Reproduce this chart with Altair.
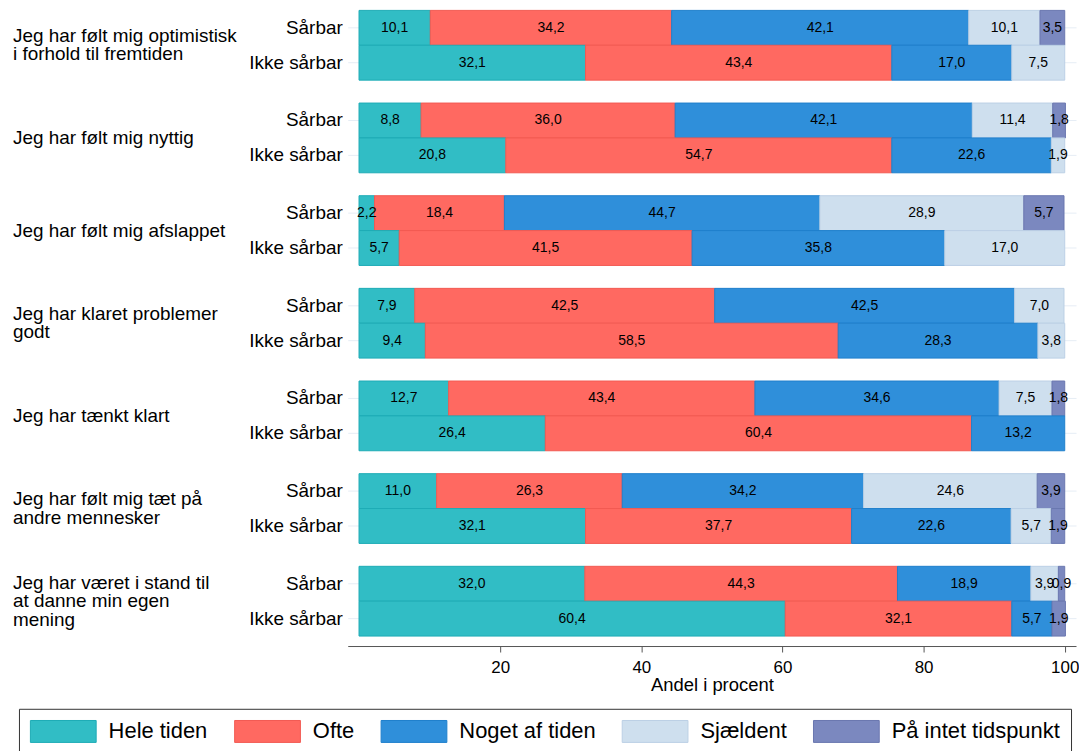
import altair as alt
import pandas as pd

groups = [
    "Jeg har følt mig optimistisk|i forhold til fremtiden",
    "Jeg har følt mig nyttig",
    "Jeg har følt mig afslappet",
    "Jeg har klaret problemer|godt",
    "Jeg har tænkt klart",
    "Jeg har følt mig tæt på|andre mennesker",
    "Jeg har været i stand til|at danne min egen|mening",
]
subs = ["Sårbar", "Ikke sårbar"]
categories = ["Hele tiden", "Ofte", "Noget af tiden", "Sjældent", "På intet tidspunkt"]

hele_tiden_saarbar = [10.1, 8.8, 2.2, 7.9, 12.7, 11.0, 32.0]
hele_tiden_ikke = [32.1, 20.8, 5.7, 9.4, 26.4, 32.1, 60.4]
ofte_saarbar = [34.2, 36.0, 18.4, 42.5, 43.4, 26.3, 44.3]
ofte_ikke = [43.4, 54.7, 41.5, 58.5, 60.4, 37.7, 32.1]
noget_saarbar = [42.1, 42.1, 44.7, 42.5, 34.6, 34.2, 18.9]
noget_ikke = [17.0, 22.6, 35.8, 28.3, 13.2, 22.6, 5.7]
sjaeldent_saarbar = [10.1, 11.4, 28.9, 7.0, 7.5, 24.6, 3.9]
sjaeldent_ikke = [7.5, 1.9, 17.0, 3.8, 0.0, 5.7, 0.0]
intet_saarbar = [3.5, 1.8, 5.7, 0.0, 1.8, 3.9, 0.9]
intet_ikke = [0.0, 0.0, 0.0, 0.0, 0.0, 1.9, 1.9]

fill_colors = ["#31bdc5", "#ff6961", "#2f8fda", "#cedfee", "#7b88bf"]
stroke_colors = ["#1eacb6", "#f25a52", "#1f7fcc", "#bcd0e5", "#6a77b0"]

series = {
    ("Sårbar", 0): hele_tiden_saarbar, ("Ikke sårbar", 0): hele_tiden_ikke,
    ("Sårbar", 1): ofte_saarbar, ("Ikke sårbar", 1): ofte_ikke,
    ("Sårbar", 2): noget_saarbar, ("Ikke sårbar", 2): noget_ikke,
    ("Sårbar", 3): sjaeldent_saarbar, ("Ikke sårbar", 3): sjaeldent_ikke,
    ("Sårbar", 4): intet_saarbar, ("Ikke sårbar", 4): intet_ikke,
}

rows = []
for gi, g in enumerate(groups):
    for s in subs:
        for ci, c in enumerate(categories):
            v = series[(s, ci)][gi]
            rows.append({"group": g, "sub": s, "category": c, "order": ci,
                         "value": v, "label": f"{v:.1f}".replace(".", ",")})
df = pd.DataFrame(rows)

FONT = "Liberation Sans"
LINE_H = 18.5

x_enc = alt.X(
    "x0:Q",
    scale=alt.Scale(domain=[-1.6, 101.6], nice=False, zero=False),
    axis=alt.Axis(values=[20, 40, 60, 80, 100], title="Andel i procent", grid=False,
                  domainColor="#555555", tickColor="#555555", tickSize=6, offset=9,
                  labelFontSize=17, titleFontSize=18.5, titleFontWeight="normal",
                  labelColor="black", titleColor="black", labelFont=FONT, titleFont=FONT,
                  titlePadding=0, labelPadding=8),
)
y_enc = alt.Y(
    "sub:N", sort=subs, title=None,
    scale=alt.Scale(paddingInner=0, paddingOuter=0),
    axis=alt.Axis(ticks=False, domain=False, labels=False, grid=True, gridColor="#e6edf5"),
)

bars = alt.Chart().mark_bar(strokeWidth=1).encode(
    x=x_enc,
    x2="x1:Q",
    y=y_enc,
    fill=alt.Fill("category:N", sort=categories,
                  scale=alt.Scale(domain=categories, range=fill_colors),
                  legend=alt.Legend(title=None)),
    stroke=alt.Stroke("category:N", sort=categories,
                      scale=alt.Scale(domain=categories, range=stroke_colors),
                      legend=alt.Legend(title=None)),
)
text = alt.Chart().mark_text(fontSize=14, color="black", font=FONT).encode(
    x=alt.X("mid:Q"),
    y=alt.Y("sub:N", sort=subs),
    text="label:N",
)
sub_label = alt.Chart().mark_text(
    align="right", baseline="middle", fontSize=19, font=FONT, color="black",
).encode(
    x=alt.value(-5), y=alt.Y("sub:N", sort=subs), text="sub:N",
).transform_filter(alt.datum.order == 0)


def group_label_layer(nlines):
    return alt.Chart().mark_text(
        align="left", baseline="middle", fontSize=19, font=FONT, color="black",
        lineBreak="|", lineHeight=LINE_H,
    ).encode(
        x=alt.value(-336), y=alt.value(35 - (nlines - 1) * LINE_H / 2), text="group:N",
    ).transform_filter(
        (alt.datum.sub == "Sårbar") & (alt.datum.order == 0)
    ).transform_calculate(
        nl="length(split(datum.group, '|'))"
    ).transform_filter(alt.datum.nl == nlines)


layered = alt.layer(
    bars, text, sub_label, group_label_layer(1), group_label_layer(2), group_label_layer(3),
    data=df,
).transform_filter(
    alt.datum.value > 0
).transform_stack(
    stack="value", groupby=["group", "sub"], as_=["x0", "x1"],
    sort=[alt.SortField("order", order="ascending")],
).transform_calculate(
    mid="(datum.x0 + datum.x1) / 2"
).properties(width=731, height=70)

chart = layered.facet(
    row=alt.Row("group:N", sort=groups, title=None, header=alt.Header(labels=False)),
    spacing=21,
).properties(
    padding={"left": 5, "top": 0, "right": 0, "bottom": 5},
    background="white",
).configure_view(stroke=None).configure_legend(
    orient="none", legendX=-330, legendY=701, direction="horizontal", columns=5,
    symbolType="M-1,-1H5V1H-1Z", symbolSize=484, symbolStrokeWidth=1,
    labelFontSize=22, labelFont=FONT, labelColor="black", labelOffset=56, labelLimit=400,
    columnPadding=24, padding=11, strokeColor="#333333",
)

chart.save("out.html", embed_options={"renderer": "svg", "actions": False})
